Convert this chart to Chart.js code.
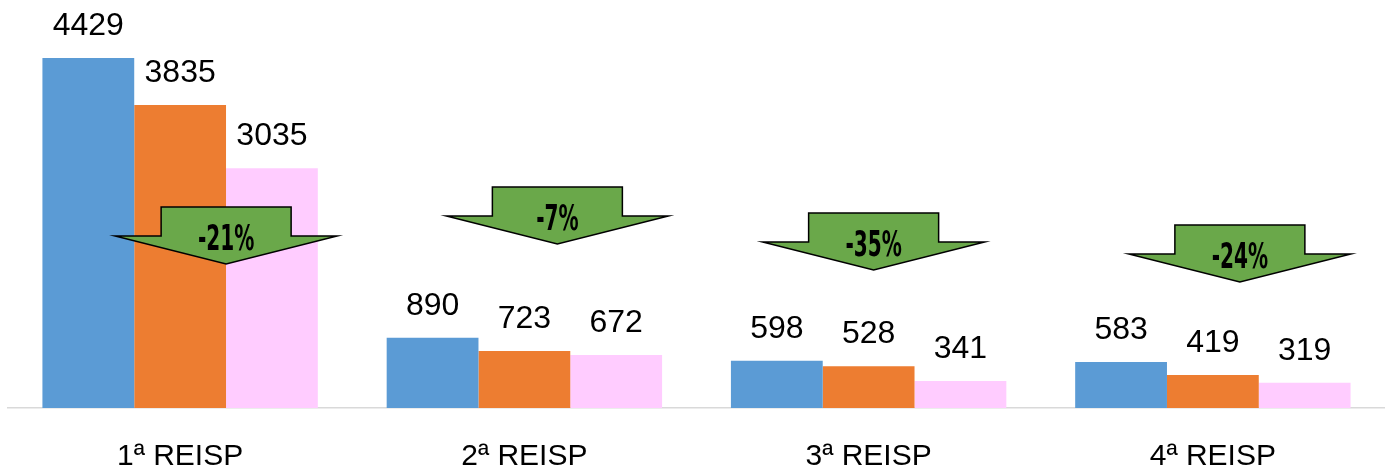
<!DOCTYPE html>
<html>
<head>
<meta charset="utf-8">
<script src="https://cdn.jsdelivr.net/npm/chart.js@4.4.1/dist/chart.umd.min.js"></script>
<style>
  html, body { margin: 0; padding: 0; background: #fff; }
  #wrap { width: 1385px; height: 470px; position: relative; }
</style>
</head>
<body>
<div id="wrap"><canvas id="myBarChart"></canvas></div>
<script>
// chart data
var categories = ['1ª REISP', '2ª REISP', '3ª REISP', '4ª REISP'];
var serieA = [4429, 890, 598, 583];
var serieB = [3835, 723, 528, 419];
var serieC = [3035, 672, 341, 319];
var variacao = ['-21%', '-7%', '-35%', '-24%'];

// arrow placement (pixels, relative to category centre / chart top)
var arrowDx = [46, 33, 5, 27];
var arrowTop = [207, 187, 213, 225];

var ctx = document.getElementById('myBarChart').getContext('2d');

// value labels above each bar
var valueLabels = {
    id: 'valueLabels',
    afterDatasetsDraw: function(chart) {
        var c = chart.ctx;
        c.save();
        c.font = '32px "Liberation Sans", Arial, sans-serif';
        c.fillStyle = '#000';
        c.textAlign = 'center';
        c.textBaseline = 'alphabetic';
        chart.data.datasets.forEach(function(ds, i) {
            chart.getDatasetMeta(i).data.forEach(function(bar, j) {
                c.fillText(ds.data[j], bar.x, bar.y - 23);
            });
        });
        c.restore();
    }
};

// green down arrows with percentage change
var arrows = {
    id: 'arrows',
    afterDraw: function(chart) {
        var c = chart.ctx;
        var xs = chart.scales.x;
        c.save();
        variacao.forEach(function(txt, i) {
            var cx = xs.getPixelForValue(i) + arrowDx[i];
            var top = arrowTop[i];
            var bw = 65, hw = 111, bh = 29, hh = 28;
            c.beginPath();
            c.moveTo(cx - bw, top);
            c.lineTo(cx + bw, top);
            c.lineTo(cx + bw, top + bh);
            c.lineTo(cx + hw, top + bh);
            c.lineTo(cx, top + bh + hh);
            c.lineTo(cx - hw, top + bh);
            c.lineTo(cx - bw, top + bh);
            c.closePath();
            c.fillStyle = '#6AA84A';
            c.fill();
            c.lineWidth = 1.5;
            c.strokeStyle = '#000';
            c.stroke();

            c.save();
            c.translate(cx, top + bh + 5);
            c.scale(0.62, 1);
            c.font = 'bold 36px "DejaVu Sans Condensed", "DejaVu Sans", sans-serif';
            c.fillStyle = '#000';
            c.textAlign = 'center';
            c.textBaseline = 'middle';
            c.fillText(txt, 0, 0);
            c.restore();
        });
        c.restore();
    }
};

var myBarChart = new Chart(ctx, {
    type: 'bar',
    data: {
        labels: categories,
        datasets: [
            { data: serieA, backgroundColor: '#5B9BD5' },
            { data: serieB, backgroundColor: '#ED7D31' },
            { data: serieC, backgroundColor: '#FFCCFF' }
        ]
    },
    options: {
        responsive: true,
        maintainAspectRatio: false,
        animation: false,
        layout: { padding: { top: 13, left: 8, right: 0, bottom: 0 } },
        datasets: { bar: { categoryPercentage: 0.8, barPercentage: 1.0 } },
        plugins: {
            legend: { display: false },
            tooltip: { enabled: false }
        },
        scales: {
            x: {
                grid: { display: false, drawTicks: false },
                border: { color: '#D9D9D9', width: 1.5 },
                ticks: {
                    color: '#000',
                    padding: 34,
                    font: { family: '"Liberation Sans", Arial, sans-serif', size: 30, lineHeight: 1.0 }
                },
                afterFit: function(scale) { scale.height = 62; }
            },
            y: { display: false, min: 0, max: 5000 }
        }
    },
    plugins: [valueLabels, arrows]
});
</script>
</body>
</html>
